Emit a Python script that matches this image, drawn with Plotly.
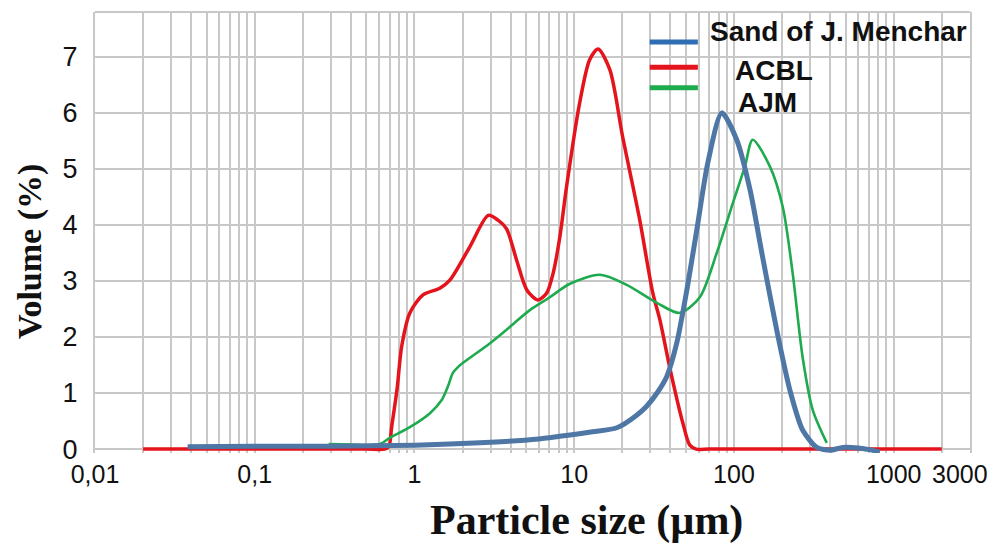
import plotly.graph_objects as go

# ---------------- data ----------------
sand_x = [0.038, 0.1, 0.3, 1, 3, 6, 9.4, 13, 18.5, 24.5, 28.3, 33, 37.9, 43.8, 50.7,
          58.5, 68.5, 83.9, 104, 126, 151, 185, 224, 269, 330, 400, 480, 600, 700, 820]
sand_y = [0.04, 0.05, 0.05, 0.07, 0.12, 0.18, 0.25, 0.31, 0.38, 0.6, 0.76, 1.0, 1.29, 1.89, 2.84,
          3.91, 5.1, 6.0, 5.52, 4.63, 3.43, 2.13, 1.05, 0.34, 0.03, -0.02, 0.03, 0.02, -0.01, -0.05]

acbl_x = [0.02, 0.1, 0.3, 0.5, 0.65, 0.69, 0.72, 0.78, 0.83, 0.935, 1.13, 1.44, 1.67, 2.22,
          2.9, 3.35, 3.77, 4.35, 5.05, 5.91, 6.71, 7.38, 8.13, 8.95, 10.8, 12.5, 14.1, 16.7,
          20.1, 25.7, 31.0, 34.4, 39.6, 47.9, 52.9, 58, 70, 150, 400, 1000, 2000]
acbl_y = [0, 0, 0, 0, 0, 0.04, 0.4, 1.1, 1.82, 2.43, 2.75, 2.87, 3.02, 3.61,
          4.17, 4.08, 3.93, 3.38, 2.84, 2.66, 2.78, 3.14, 3.79, 4.68, 6.17, 6.95, 7.14, 6.77,
          5.57, 4.09, 2.79, 2.30, 1.46, 0.46, 0.07, 0, 0, 0, 0, 0, 0]

ajm_x = [0.29, 0.4, 0.53, 0.62, 0.70, 0.935, 1.25, 1.48, 1.62, 1.74, 1.9, 2.13, 2.97, 3.95,
         5.27, 7.03, 9.4, 14.5, 21.3, 32.9, 45.8, 61.1, 78, 98.4, 117, 131, 168, 202, 233,
         269, 311, 381]
ajm_y = [0.09, 0.08, 0.07, 0.1, 0.2, 0.39, 0.64, 0.875, 1.12, 1.36, 1.48, 1.59, 1.89, 2.18,
         2.48, 2.71, 2.95, 3.11, 2.93, 2.61, 2.43, 2.71, 3.5, 4.39, 5.04, 5.52, 5.04, 4.32, 3.14,
         1.64, 0.70, 0.11]

series_names = ["Sand of J. Menchar", "ACBL", "AJM"]
x_tickvals = [0.01, 0.1, 1, 10, 100, 1000, 3000]
x_ticktext = ["0,01", "0,1", "1", "10", "100", "1000", "3000"]
y_tickvals = [0, 1, 2, 3, 4, 5, 6, 7]

# ---------------- styling ----------------
BLUE = "#4e77a5"
BLUE_LEG = "#2f6db2"
RED = "#e5141c"
GREEN = "#1eaa4e"
GRID = "#c8c8c8"
YTICKFONT = dict(family="Liberation Sans, Arial", size=27, color="#111111")
XTICKFONT = dict(family="Liberation Sans, Arial", size=25, color="#111111")

minor_vals = [m * 10 ** e for e in range(-2, 4) for m in range(2, 10) if m * 10 ** e < 3000]

fig = go.Figure()
fig.add_trace(go.Scatter(x=acbl_x, y=acbl_y, mode="lines", name=series_names[1],
                         line=dict(color=RED, width=3.5, shape="spline", smoothing=0.8)))
fig.add_trace(go.Scatter(x=ajm_x, y=ajm_y, mode="lines", name=series_names[2],
                         line=dict(color=GREEN, width=2.6, shape="spline", smoothing=0.8)))
fig.add_trace(go.Scatter(x=sand_x, y=sand_y, mode="lines", name=series_names[0],
                         line=dict(color=BLUE, width=5, shape="spline", smoothing=0.7)))

# the last tick label sits at the right edge; it is drawn as an annotation pulled
# slightly inward so it is not clipped by the page
axis_ticktext = x_ticktext[:-1] + [""]

# page has an 8px body margin: figure is shrunk so the plot lands where the reference has it
fig.update_layout(
    width=991, height=541,
    margin=dict(l=87, r=29, t=4, b=96, autoexpand=False),
    paper_bgcolor="white", plot_bgcolor="white",
    showlegend=False,
    xaxis=dict(type="log", range=[-2, 3.4775], tickmode="array",
               tickvals=x_tickvals, ticktext=axis_ticktext, tickfont=XTICKFONT,
               automargin=False, ticklabelstandoff=4,
               showgrid=True, gridcolor=GRID, gridwidth=1.5,
               minor=dict(tickmode="array", tickvals=minor_vals, showgrid=True,
                          gridcolor=GRID, gridwidth=1.5, ticks=""),
               ticks="", showline=False, zeroline=False),
    yaxis=dict(range=[-0.07, 7.8], tickmode="array", tickvals=y_tickvals,
               tickfont=YTICKFONT, showgrid=True, gridcolor=GRID, gridwidth=2,
               zeroline=True, zerolinecolor=GRID, zerolinewidth=2,
               showline=True, linecolor=GRID, linewidth=2, mirror=True,
               ticks="", ticklabelstandoff=10, automargin=False),
)

fig.add_annotation(text=x_ticktext[-1], xref="paper", yref="paper", x=1.0, y=0,
                   xanchor="right", yanchor="top", xshift=20, yshift=-5, showarrow=False,
                   font=XTICKFONT)

# top border of plot frame
fig.add_shape(type="line", xref="paper", yref="paper", x0=0, x1=1, y0=1, y1=1,
              line=dict(color=GRID, width=2))

# custom legend (matches reference's offset labels)
leg_y = [0.932, 0.875, 0.828]
leg_cols = [BLUE_LEG, RED, GREEN]
for yy, cc in zip(leg_y, leg_cols):
    fig.add_shape(type="line", xref="paper", yref="paper", x0=0.634, x1=0.689,
                  y0=yy, y1=yy, line=dict(color=cc, width=5))
leg_text_pos = [(0.7006, 0.955), (0.729, 0.868), (0.733, 0.794)]
for name, (tx, ty) in zip(series_names, leg_text_pos):
    fig.add_annotation(text=name, xref="paper", yref="paper", x=tx, y=ty,
                       xanchor="left", yanchor="middle", showarrow=False,
                       font=dict(family="Liberation Sans, Arial", size=28,
                                 color="#111111", weight="bold"))

# axis titles
fig.add_annotation(text="Volume (%)", xref="paper", yref="paper", x=-0.0743, y=0.458,
                   xanchor="center", yanchor="middle", textangle=-90, showarrow=False,
                   font=dict(family="Liberation Serif, Times New Roman", size=34,
                             color="#111111", weight="bold"))
fig.add_annotation(text="Particle size (µm)", xref="paper", yref="paper", x=0.562, y=-0.152,
                   xanchor="center", yanchor="middle", showarrow=False,
                   font=dict(family="Liberation Serif, Times New Roman", size=42,
                             color="#111111", weight="bold"))

fig.write_html("out.html")
